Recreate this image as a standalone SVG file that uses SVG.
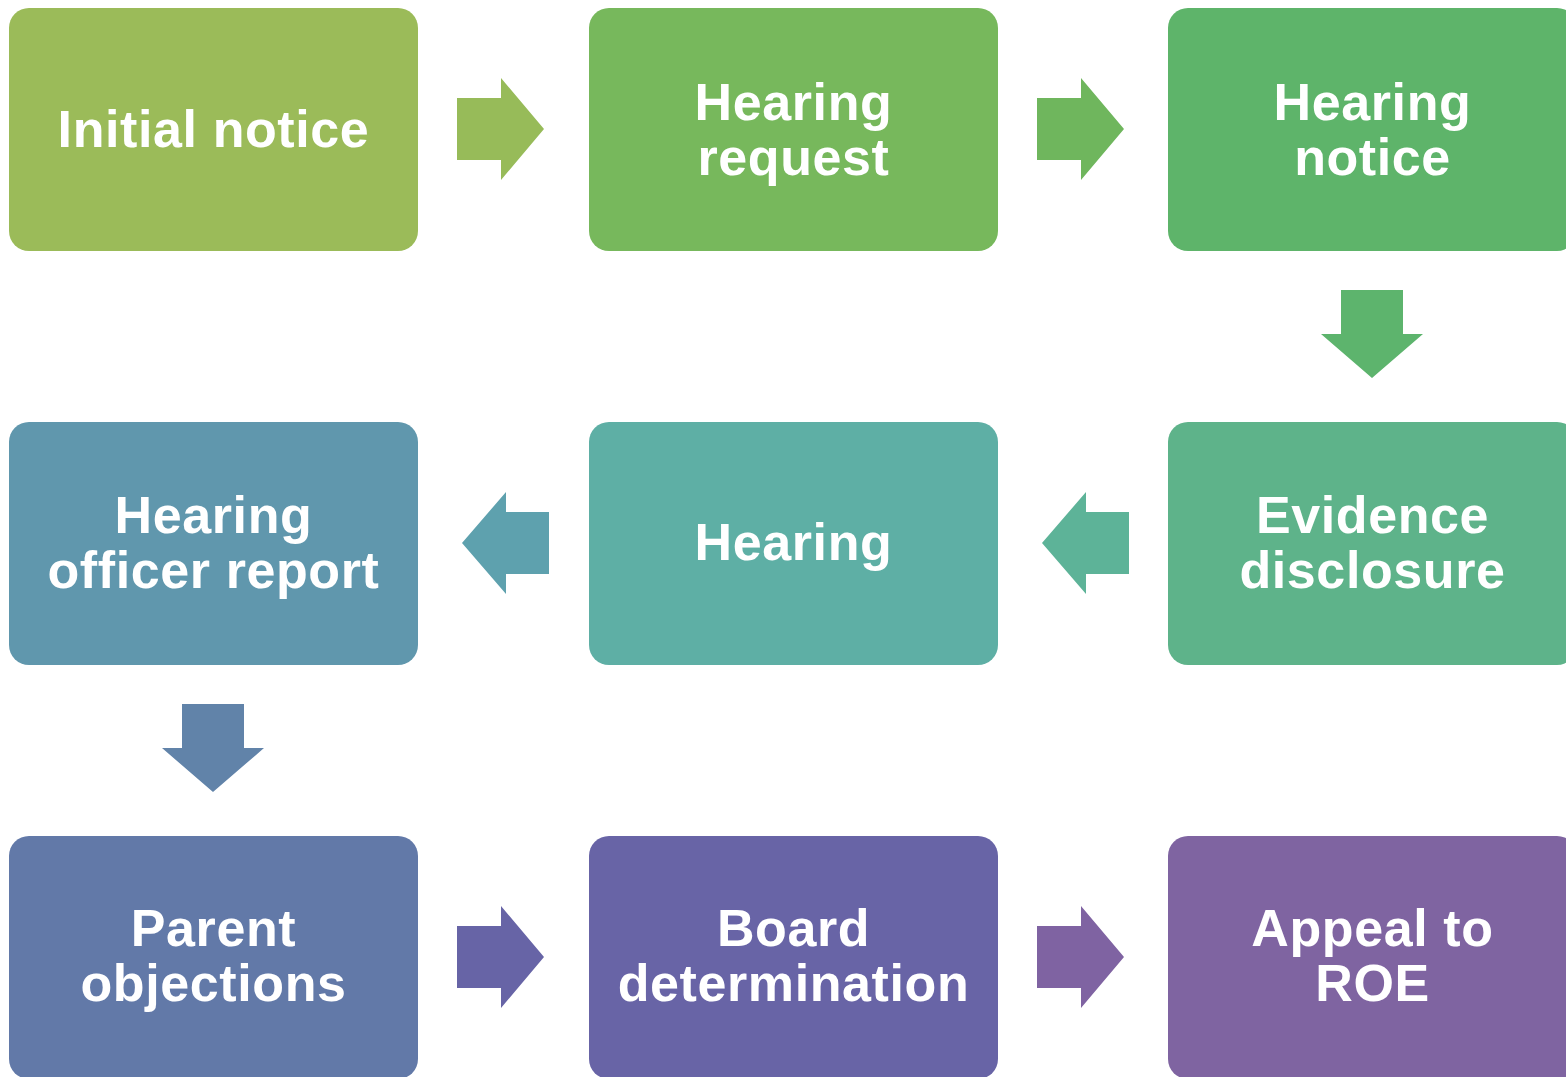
<svg xmlns="http://www.w3.org/2000/svg" width="1566" height="1077" viewBox="0 0 1566 1077">
<style>
.box{stroke:none}
.lbl{font-family:"Liberation Sans",Arial,sans-serif;font-weight:bold;font-size:52px;fill:#FFFFFF;text-anchor:middle;letter-spacing:0.6px}
</style>
<defs>
<path id="ar" d="M0,-31 H44 V-51 L87,0 L44,51 V31 H0 Z"/>
<path id="al" d="M87,-31 H44 V-51 L0,0 L44,51 V31 H87 Z"/>
<path id="ad" d="M-31,0 V44 H-51 L0,88 L51,44 H31 V0 Z"/>
</defs>
<rect width="1566" height="1077" fill="#FFFFFF"/>
<g id="connectors">
<use href="#ar" x="457" y="129" fill="#97BB59"/>
<use href="#ar" x="1037" y="129" fill="#6FB65D"/>
<use href="#ad" x="1372" y="290" fill="#5DB46D"/>
<use href="#al" x="1042" y="543" fill="#5DB398"/>
<use href="#al" x="462" y="543" fill="#5EA1AE"/>
<use href="#ad" x="213" y="704" fill="#6183A9"/>
<use href="#ar" x="457" y="957" fill="#6764A6"/>
<use href="#ar" x="1037" y="957" fill="#7F63A2"/>
</g>
<g id="n1"><rect class="box" x="9" y="8" width="409" height="243" rx="20" fill="#9BBB59"/>
<text class="lbl" x="213.5" y="147">Initial notice</text></g>
<g id="n2"><rect class="box" x="589" y="8" width="409" height="243" rx="20" fill="#77B85C"/>
<text class="lbl" x="793.5" y="120">Hearing</text><text class="lbl" x="793.5" y="175">request</text></g>
<g id="n3"><rect class="box" x="1168" y="8" width="409" height="243" rx="20" fill="#5EB46A"/>
<text class="lbl" x="1372.5" y="120">Hearing</text><text class="lbl" x="1372.5" y="175">notice</text></g>
<g id="n4"><rect class="box" x="1168" y="422" width="409" height="243" rx="20" fill="#5EB38A"/>
<text class="lbl" x="1372.5" y="533">Evidence</text><text class="lbl" x="1372.5" y="588">disclosure</text></g>
<g id="n5"><rect class="box" x="589" y="422" width="409" height="243" rx="20" fill="#5EAFA5"/>
<text class="lbl" x="793.5" y="560">Hearing</text></g>
<g id="n6"><rect class="box" x="9" y="422" width="409" height="243" rx="20" fill="#6097AD"/>
<text class="lbl" x="213.5" y="533">Hearing</text><text class="lbl" x="213.5" y="588">officer report</text></g>
<g id="n7"><rect class="box" x="9" y="836" width="409" height="243" rx="20" fill="#6279A8"/>
<text class="lbl" x="213.5" y="946">Parent</text><text class="lbl" x="213.5" y="1001">objections</text></g>
<g id="n8"><rect class="box" x="589" y="836" width="409" height="243" rx="20" fill="#6864A6"/>
<text class="lbl" x="793.5" y="946">Board</text><text class="lbl" x="793.5" y="1001">determination</text></g>
<g id="n9"><rect class="box" x="1168" y="836" width="409" height="243" rx="20" fill="#7F64A1"/>
<text class="lbl" x="1372.5" y="946">Appeal to</text><text class="lbl" x="1372.5" y="1001">ROE</text></g>
</svg>
